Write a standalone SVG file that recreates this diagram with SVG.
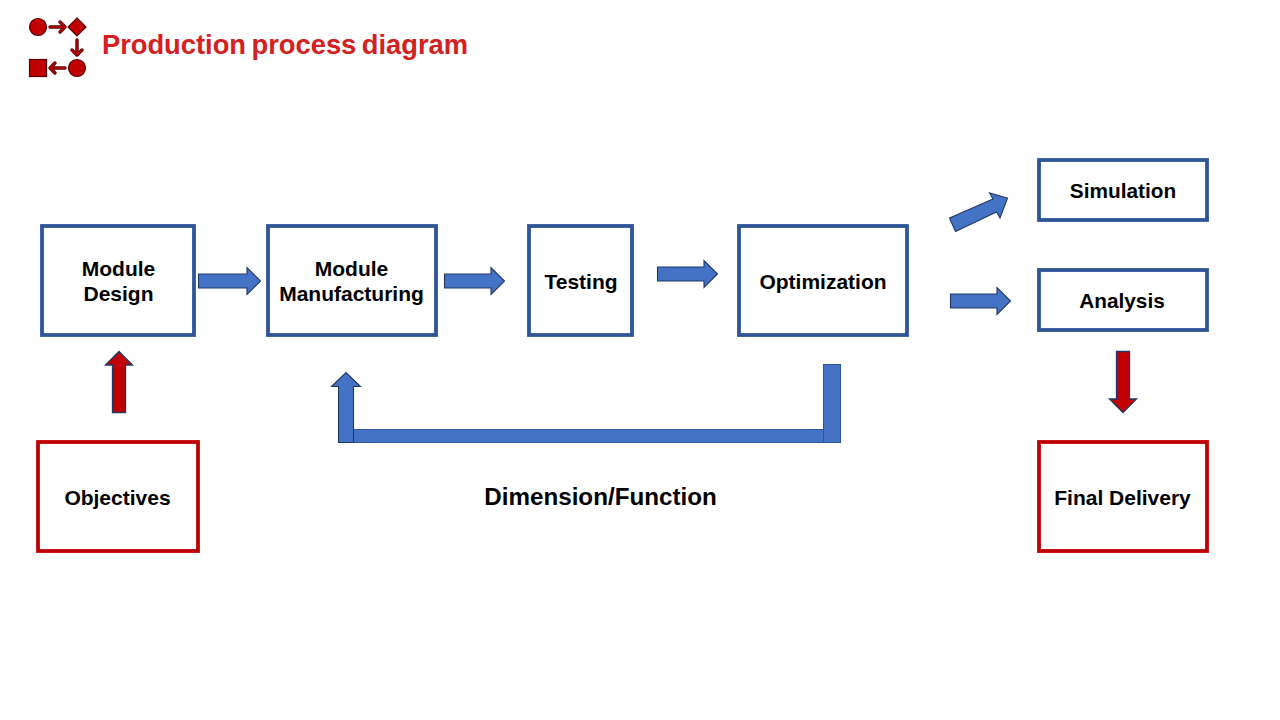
<svg xmlns="http://www.w3.org/2000/svg" width="1280" height="720" viewBox="0 0 1280 720">
<style>
text{font-family:"Liberation Sans",Arial,sans-serif;font-weight:700;fill:#000;text-anchor:middle;font-size:21px}
.b{fill:#fff;stroke:#2f5597;stroke-width:3.8}
.r{fill:#fff;stroke:#c00000;stroke-width:3.8}
.a{fill:#4472c4;stroke:#1f3864;stroke-width:1.1}
.c{fill:#c00000;stroke:#1f3864;stroke-width:1.3}
.p{fill:#4472c4;stroke:#2f5597;stroke-width:1}
.i{fill:#c00000;stroke:#5a0000;stroke-width:1.200}
.il{fill:none;stroke:#5a0000;stroke-width:3.400;stroke-linecap:round;stroke-linejoin:round}
.il2{fill:none;stroke:#c00000;stroke-width:1.500;stroke-linecap:round;stroke-linejoin:round}
</style>
<rect width="1280" height="720" fill="#fff"/>
<g id="logo">
<circle class="i" cx="38" cy="27" r="8.500"/>
<path class="i" d="M77 18 L86 27 L77 36 L68 27Z"/>
<circle class="i" cx="77" cy="68" r="8.500"/>
<rect class="i" x="29.500" y="59.500" width="17" height="17"/>
<path class="il" d="M50 27H65M60 22L65 27L60 32"/>
<path class="il2" d="M50 27H65M60 22L65 27L60 32"/>
<path class="il" d="M77 40V55M72 50L77 55L82 50"/>
<path class="il2" d="M77 40V55M72 50L77 55L82 50"/>
<path class="il" d="M65 68H50M55 63L50 68L55 73"/>
<path class="il2" d="M65 68H50M55 63L50 68L55 73"/>
</g>
<text id="title" x="285" y="54" style="font-size:27.300px;fill:#d42020;word-spacing:-2px">Production process diagram</text>
<g id="connectors">
<path class="a" d="M198.500 274H247V267.500L260.500 281L247 294.500V288H198.500Z"/>
<path class="a" d="M444.500 274H491V267.500L504.500 281L491 294.500V288H444.500Z"/>
<path class="a" d="M657.500 267H704V260.500L717.500 274L704 287.500V281H657.500Z"/>
<path class="a" d="M950.500 294H997V287.500L1010.500 301L997 314.500V308H950.500Z"/>
<path class="a" d="M949.500 218L993 199L989.500 193L1007.500 198L1000 218L996.500 212L955.500 231.500Z"/>
<path class="c" d="M112.500 412.500V365H105.500L119 351.500L132.500 365H125.500V412.500Z"/>
<path class="c" d="M1116.500 351.500V399H1109.500L1123 412.500L1136.500 399H1129.500V351.500Z"/>
<rect class="p" x="353.500" y="429.500" width="470" height="13"/>
<path class="a" d="M338.500 442.500V386.500H331.500L346 372.500L360.500 386.500H353.500V442.500Z"/>
<rect class="p" x="823.500" y="364.500" width="17" height="78"/>
</g>
<g id="module-design"><rect class="b" x="42" y="226" width="152" height="109"/><text x="118.500" y="276">Module</text><text x="118.500" y="301">Design</text></g>
<g id="module-manufacturing"><rect class="b" x="268" y="226" width="168" height="109"/><text x="351.500" y="276">Module</text><text x="351.500" y="301">Manufacturing</text></g>
<g id="testing"><rect class="b" x="529" y="226" width="103" height="109"/><text x="581" y="289">Testing</text></g>
<g id="optimization"><rect class="b" x="739" y="226" width="168" height="109"/><text x="823" y="289">Optimization</text></g>
<g id="simulation"><rect class="b" x="1039" y="160" width="168" height="60"/><text x="1123" y="198" style="font-size:20.800px">Simulation</text></g>
<g id="analysis"><rect class="b" x="1039" y="270" width="168" height="60"/><text x="1122" y="308" style="font-size:20.800px">Analysis</text></g>
<g id="objectives"><rect class="r" x="38" y="442" width="160" height="109"/><text x="117.500" y="505">Objectives</text></g>
<g id="final-delivery"><rect class="r" x="1039" y="442" width="168" height="109"/><text x="1122.500" y="505">Final Delivery</text></g>
<text id="dimension" x="600.500" y="505" style="font-size:24.200px">Dimension/Function</text>
</svg>
